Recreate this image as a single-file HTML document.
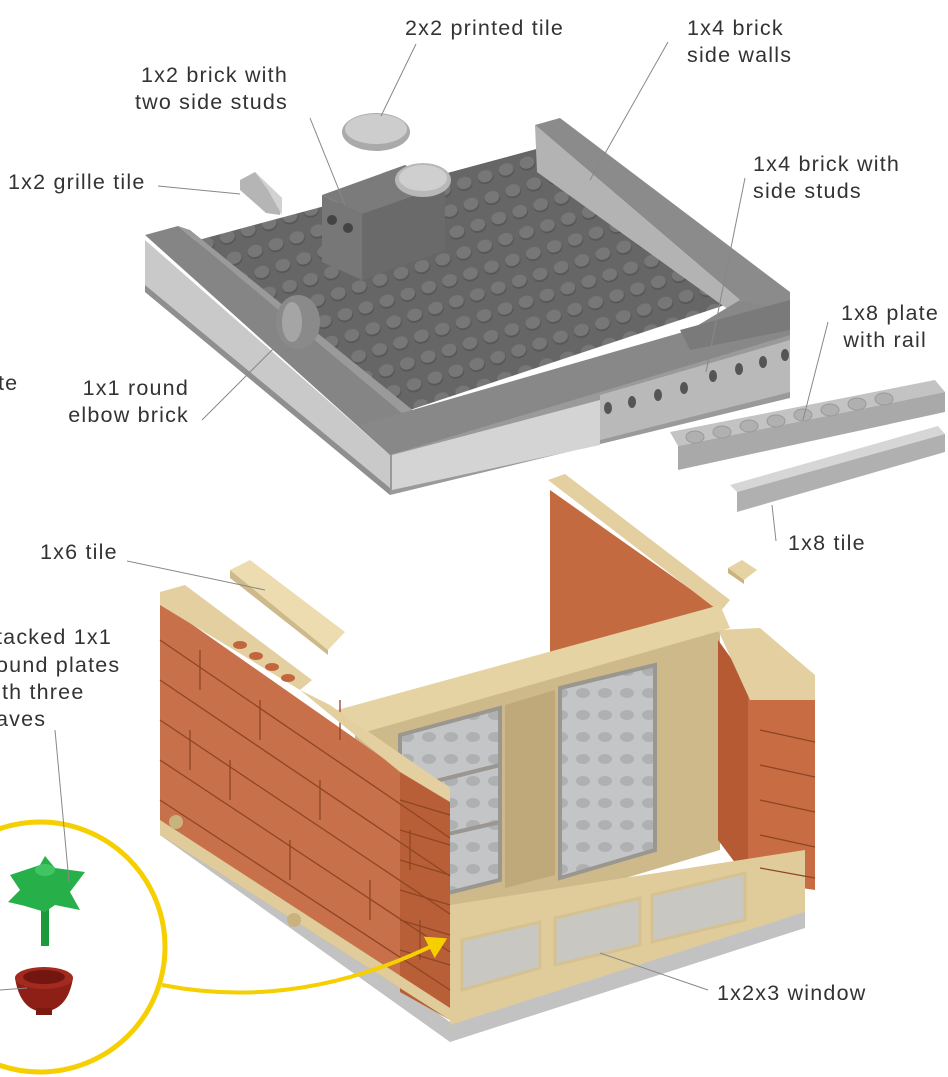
<!DOCTYPE html>
<html><head><meta charset="utf-8"><style>
html,body{margin:0;padding:0;background:#fff;}
svg{display:block;}
text{font-family:"Liberation Sans",sans-serif;font-size:21.5px;fill:#333;letter-spacing:1.2px;}
</style></head><body>
<svg width="948" height="1077" viewBox="0 0 948 1077" xmlns="http://www.w3.org/2000/svg">
<defs>
<pattern id="studs" width="22" height="22" patternUnits="userSpaceOnUse" patternTransform="rotate(-18)">
<rect width="22" height="22" fill="#666"/>
<ellipse cx="11" cy="11" rx="8" ry="6.5" fill="#575757"/>
<ellipse cx="11" cy="9.5" rx="7.5" ry="6" fill="#777"/>
</pattern>
<pattern id="glass" width="22" height="22" patternUnits="userSpaceOnUse">
<rect width="22" height="22" fill="#c4c5c7"/>
<ellipse cx="11" cy="11" rx="7" ry="5" fill="#aeb0b2"/>
</pattern>
<marker id="ah" markerWidth="6" markerHeight="6" refX="3" refY="3" orient="auto" markerUnits="strokeWidth">
<path d="M0,0 L5,3 L0,6 z" fill="#f5cf00"/>
</marker>
</defs>

<!-- ===== top gray base ===== -->
<polygon points="145,240 390,455 390,495 145,292" fill="#c9c9c9"/>
<polygon points="145,285 390,488 390,495 145,292" fill="#8f8f8f"/>
<polygon points="390,455 790,330 790,398 390,495" fill="#9a9a9a"/>
<polygon points="392,455 600,400 600,445 392,490" fill="#d4d4d4"/>
<polygon points="600,395 790,340 790,392 600,440" fill="#b9b9b9"/>
<g fill="#555">
<ellipse cx="608" cy="408" rx="4" ry="6"/><ellipse cx="632" cy="402" rx="4" ry="6"/><ellipse cx="658" cy="395" rx="4" ry="6"/><ellipse cx="684" cy="388" rx="4" ry="6"/>
<ellipse cx="713" cy="376" rx="4" ry="6"/><ellipse cx="739" cy="369" rx="4" ry="6"/><ellipse cx="763" cy="362" rx="4" ry="6"/><ellipse cx="785" cy="355" rx="4" ry="6"/>
</g>
<polygon points="180,245 540,148 740,300 380,420" fill="url(#studs)"/>
<polygon points="535,125 560,118 790,292 790,315 740,300" fill="#8b8b8b"/>
<polygon points="535,125 740,300 740,318 537,172" fill="#b3b3b3"/>
<polygon points="145,235 178,226 410,420 390,455" fill="#858585"/>
<polygon points="178,226 190,230 415,412 410,420" fill="#9a9a9a"/>
<polygon points="360,425 690,330 740,300 790,312 790,335 390,455" fill="#888"/>
<polygon points="680,330 790,300 790,330 690,350" fill="#7a7a7a"/>
<polygon points="322,195 405,165 445,185 362,214" fill="#7b7b7b"/>
<polygon points="362,214 445,185 445,250 362,280" fill="#6a6a6a"/>
<polygon points="322,195 362,214 362,280 322,262" fill="#777"/>
<circle cx="332" cy="220" r="5" fill="#444"/><circle cx="348" cy="228" r="5" fill="#444"/>
<ellipse cx="423" cy="180" rx="28" ry="17" fill="#b8b8b8"/><ellipse cx="423" cy="178" rx="24" ry="13" fill="#cfcfcf"/>
<ellipse cx="298" cy="322" rx="22" ry="27" fill="#8a8a8a"/><ellipse cx="292" cy="322" rx="10" ry="20" fill="#a5a5a5"/>
<ellipse cx="376" cy="132" rx="34" ry="19" fill="#aaa"/><ellipse cx="376" cy="129" rx="31" ry="15" fill="#cdcdcd"/>
<polygon points="240,180 255,172 282,198 280,215 266,213 240,190" fill="#b5b5b5"/>
<polygon points="255,172 282,198 282,215 268,190" fill="#d2d2d2"/>

<polygon points="670,432 935,380 945,392 678,446" fill="#c3c3c3"/>
<polygon points="678,446 945,392 945,412 678,470" fill="#a9a9a9"/>
<g fill="#b0b0b0" stroke="#999" stroke-width="1">
<ellipse cx="695" cy="437" rx="9" ry="6"/><ellipse cx="722" cy="432" rx="9" ry="6"/><ellipse cx="749" cy="426" rx="9" ry="6"/><ellipse cx="776" cy="421" rx="9" ry="6"/>
<ellipse cx="803" cy="415" rx="9" ry="6"/><ellipse cx="830" cy="410" rx="9" ry="6"/><ellipse cx="857" cy="404" rx="9" ry="6"/><ellipse cx="884" cy="399" rx="9" ry="6"/>
</g>
<polygon points="730,485 938,426 945,434 737,492" fill="#d6d6d6"/>
<polygon points="737,492 945,434 945,452 737,512" fill="#b0b0b0"/>

<!-- ===== bottom brick building ===== -->
<polygon points="160,815 450,1022 805,910 805,928 450,1042 160,835" fill="#c2c2c2"/>
<polygon points="550,490 720,610 720,835 550,715" fill="#c46a40"/>
<polygon points="548,480 565,474 730,600 720,612" fill="#e3cf9f"/>
<polygon points="355,720 720,615 720,850 450,930 355,900" fill="#cdb98a"/>
<polygon points="330,712 720,605 730,628 355,735" fill="#e6d3a3"/>
<polygon points="400,735 500,708 500,880 400,905" fill="url(#glass)" stroke="#9a9690" stroke-width="4"/>
<line x1="400" y1="790" x2="500" y2="765" stroke="#9a9690" stroke-width="4"/>
<line x1="400" y1="845" x2="500" y2="822" stroke="#9a9690" stroke-width="4"/>
<polygon points="560,688 655,665 655,850 560,878" fill="url(#glass)" stroke="#9a9690" stroke-width="4"/>
<polygon points="505,705 555,690 555,875 505,888" fill="#bfa97a"/>
<polygon points="718,640 748,682 748,880 718,840" fill="#b55a32"/>
<polygon points="748,682 815,698 815,890 748,880" fill="#c86d43"/>
<polygon points="718,630 760,628 815,675 815,700 750,700" fill="#e3cf9f"/>
<polygon points="450,905 805,850 805,912 450,1025" fill="#e0cc9b"/>
<polygon points="462,940 540,922 540,968 462,990" fill="#c9c7c2" stroke="#d6c290" stroke-width="3"/>
<polygon points="555,918 640,898 640,945 555,965" fill="#c9c7c2" stroke="#d6c290" stroke-width="3"/>
<polygon points="652,895 745,873 745,920 652,942" fill="#c9c7c2" stroke="#d6c290" stroke-width="3"/>
<polygon points="160,602 400,770 450,800 450,1020 160,835" fill="#c8704a"/>
<polygon points="400,770 450,800 450,1020 400,992" fill="#b95f37"/>
<polygon points="160,820 450,1008 450,1020 160,835" fill="#e0cc9b"/>
<g stroke="#8f4524" stroke-width="1.3" fill="none">
<path d="M160,640 L450,838 M160,680 L450,876 M160,720 L450,914 M160,760 L450,952 M160,800 L450,990"/>
<path d="M200,650 l0,40 M260,700 l0,40 M230,760 l0,40 M320,780 l0,40 M290,840 l0,40 M370,880 l0,40 M410,830 l0,40 M420,920 l0,40 M190,730 l0,40 M340,700 l0,40"/>
<path d="M400,800 l50,15 M400,830 l50,15 M400,860 l50,15 M400,890 l50,15 M400,920 l50,15 M400,950 l50,15"/>
<path d="M760,730 l55,12 M760,765 l55,12 M760,800 l55,12 M760,835 l55,12 M760,868 l55,10"/>
</g>
<circle cx="176" cy="822" r="7" fill="#c9b27e"/>
<circle cx="294" cy="920" r="7" fill="#c9b27e"/>
<polygon points="160,592 185,585 312,680 300,690 160,605" fill="#e3cf9f"/>
<polygon points="300,690 330,705 340,712 450,788 450,802 400,772" fill="#e3cf9f"/>
<g fill="#c2673d"><ellipse cx="240" cy="645" rx="7" ry="4"/><ellipse cx="256" cy="656" rx="7" ry="4"/><ellipse cx="272" cy="667" rx="7" ry="4"/><ellipse cx="288" cy="678" rx="7" ry="4"/></g>
<polygon points="230,570 250,560 345,632 328,650" fill="#ecdcaf"/>
<polygon points="230,570 328,650 328,655 230,578" fill="#cdb98a"/>
<polygon points="728,568 742,560 757,570 744,580" fill="#e6d3a3"/>
<polygon points="728,568 744,580 744,584 728,573" fill="#c9b27e"/>

<circle cx="40" cy="947" r="125" fill="none" stroke="#f5cf00" stroke-width="5"/>
<path d="M162,985 Q300,1012 440,942" fill="none" stroke="#f5cf00" stroke-width="4" marker-end="url(#ah)"/>
<rect x="41" y="900" width="8" height="46" fill="#1a9a3a"/>
<path d="M10,875 L40,865 L45,856 L55,868 L85,872 L70,892 L80,910 L55,905 L45,912 L25,906 L8,902 L20,890 Z" fill="#27b04a"/>
<ellipse cx="45" cy="870" rx="10" ry="6" fill="#3fc562"/>
<path d="M15,978 Q20,1010 43,1012 Q68,1010 73,978 Z" fill="#8e1f16"/>
<ellipse cx="44" cy="978" rx="29" ry="11" fill="#a22a1e"/>
<ellipse cx="44" cy="977" rx="21" ry="7" fill="#741610"/>
<rect x="36" y="1008" width="16" height="7" fill="#7c1a12"/>

<g stroke="#888" stroke-width="1" fill="none">
<line x1="416" y1="44" x2="381" y2="116"/>
<line x1="668" y1="42" x2="590" y2="180"/>
<line x1="310" y1="118" x2="345" y2="205"/>
<line x1="158" y1="186" x2="240" y2="194"/>
<line x1="745" y1="178" x2="706" y2="372"/>
<line x1="828" y1="322" x2="803" y2="420"/>
<line x1="202" y1="420" x2="282" y2="340"/>
<line x1="776" y1="541" x2="772" y2="505"/>
<line x1="127" y1="561" x2="265" y2="590"/>
<line x1="55" y1="730" x2="69" y2="882"/>
<line x1="0" y1="990" x2="27" y2="988"/>
<line x1="708" y1="990" x2="600" y2="953"/>
</g>

<text x="405" y="35">2x2 printed tile</text>
<text x="687" y="35">1x4 brick</text>
<text x="687" y="62">side walls</text>
<text x="288" y="82" text-anchor="end">1x2 brick with</text>
<text x="288" y="109" text-anchor="end">two side studs</text>
<text x="8" y="189">1x2 grille tile</text>
<text x="753" y="171">1x4 brick with</text>
<text x="753" y="198">side studs</text>
<text x="939" y="320" text-anchor="end">1x8 plate</text>
<text x="927" y="347" text-anchor="end">with rail</text>
<text x="-2" y="390">te</text>
<text x="189" y="395" text-anchor="end">1x1 round</text>
<text x="189" y="422" text-anchor="end">elbow brick</text>
<text x="788" y="550">1x8 tile</text>
<text x="40" y="559">1x6 tile</text>
<text x="-4" y="644">tacked 1x1</text>
<text x="-4" y="672">ound plates</text>
<text x="-4" y="699">ith three</text>
<text x="-4" y="726">aves</text>
<text x="717" y="1000">1x2x3 window</text>
</svg>
</body></html>
